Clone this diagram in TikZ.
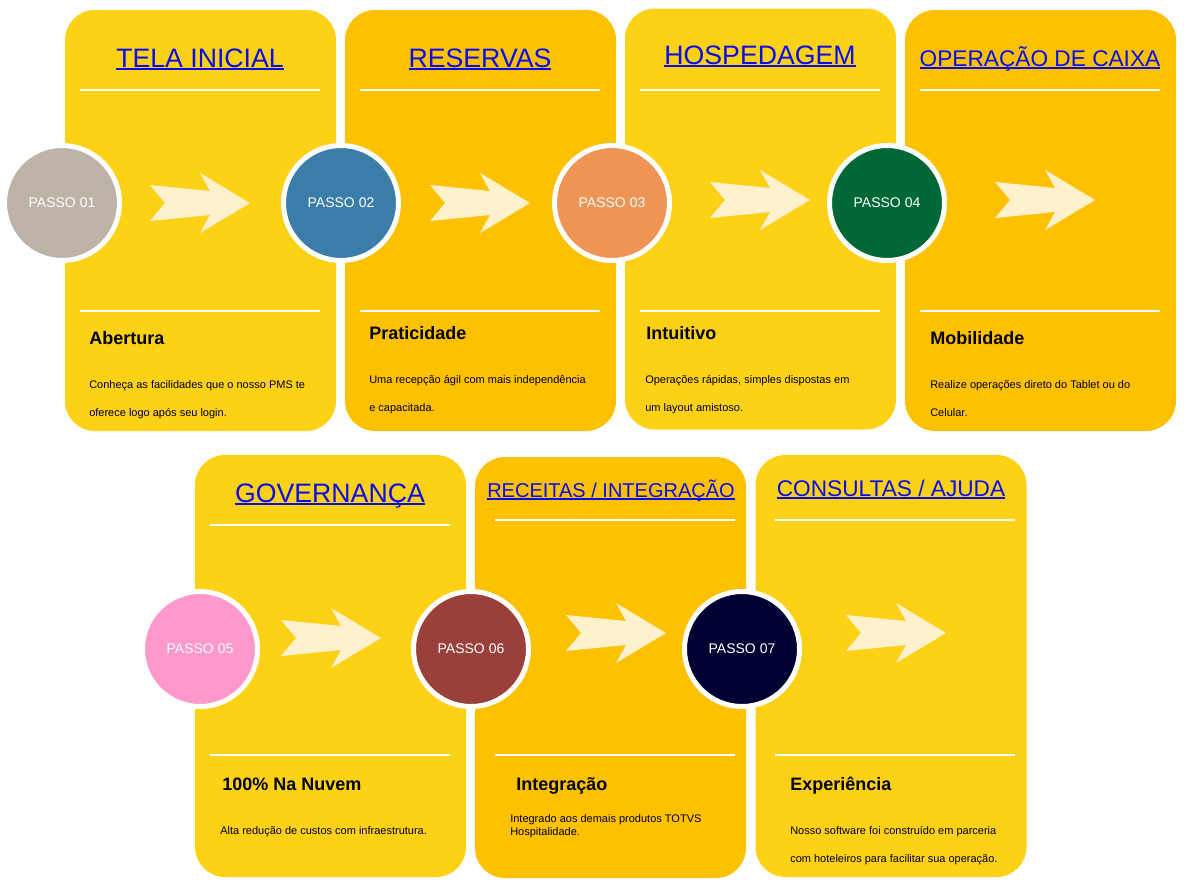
\documentclass[tikz,border=0pt]{standalone}
\usepackage{fontspec}
\setmainfont{Liberation Sans}
\usetikzlibrary{positioning}
\definecolor{cardlight}{HTML}{FDD116}
\definecolor{carddark}{HTML}{FEC100}
\definecolor{linkblue}{HTML}{0A0AEE}
\definecolor{chevcream}{HTML}{FFF1CC}
\definecolor{pA}{HTML}{BEB3A9}
\definecolor{pB}{HTML}{3A7DA9}
\definecolor{pC}{HTML}{EE9454}
\definecolor{pD}{HTML}{006837}
\definecolor{pE}{HTML}{FF99CC}
\definecolor{pF}{HTML}{99403A}
\definecolor{pG}{HTML}{000033}
\tikzstyle{card}=[rounded corners=22.5pt, minimum width=203.25pt, minimum height=315.75pt, inner sep=0pt]
\tikzstyle{light}=[card, fill=cardlight]
\tikzstyle{dark}=[card, fill=carddark]
\tikzstyle{passo}=[circle, draw=white, line width=3.75pt, minimum size=86.25pt, inner sep=0pt, text=white, font=\fontsize{10.5}{12}\selectfont]
\tikzstyle{title}=[anchor=base, text=linkblue, inner sep=0pt, font=\fontsize{20}{24}\selectfont]
\tikzstyle{sub}=[anchor=base west, inner sep=0pt, font=\bfseries\fontsize{13.5}{16}\selectfont]
\tikzstyle{desc}=[anchor=base west, align=left, inner sep=0pt, font=\fontsize{8.25}{21}\selectfont]
\tikzstyle{rule}=[draw=white, line width=1.5pt]
\newcommand{\chevron}[2]{\fill[chevcream, shift={(#1,#2)}] (-100,-18) -- (-85,0) -- (-100,18) -- (-40,12) -- (-50,30) -- (0,0) -- (-50,-30) -- (-40,-12) -- cycle;}
\newcommand{\ulink}[1]{\leavevmode\setbox0=\hbox{#1}\rlap{\copy0}\rule[-2.4pt]{\wd0}{1.4pt}}

\begin{document}
\begin{tikzpicture}[x=0.75pt, y=-0.75pt]
\useasboundingbox (0,0) rectangle (1184,885);
% first row
\node[light] (card1) at (200.5,220.5) {};
\node[dark] (card2) at (480.5,220.5) {};
\node[light] (card3) at (760.5,219) {};
\node[dark] (card4) at (1040.5,220.5) {};
% second row
\node[light, minimum height=316.5pt] (card5) at (330.5,666) {};
\node[dark] (card6) at (610.5,667.5) {};
\node[light, minimum height=316.5pt] (card7) at (891,666) {};

\draw[rule] (80,90) -- (320,90);   \draw[rule] (80,311) -- (320,311);
\draw[rule] (360,90) -- (600,90);  \draw[rule] (360,311) -- (600,311);
\draw[rule] (640,90) -- (880,90);  \draw[rule] (640,311) -- (880,311);
\draw[rule] (920,90) -- (1160,90); \draw[rule] (920,311) -- (1160,311);
\draw[rule] (210,525) -- (450,525); \draw[rule] (210,755) -- (450,755);
\draw[rule] (495,520) -- (735,520); \draw[rule] (495,755) -- (735,755);
\draw[rule] (775,520) -- (1015,520); \draw[rule] (775,755) -- (1015,755);

\node[title] (tela) at (200,67) {\ulink{TELA INICIAL}};
\node[title] (reservas) at (480,67) {\ulink{RESERVAS}};
\node[title] (hosp) at (760,64) {\ulink{HOSPEDAGEM}};
\node[title, font=\fontsize{17}{20}\selectfont] (caixa) at (1040,66) {\ulink{OPERAÇÃO DE CAIXA}};
\node[title] (gov) at (330,502) {\ulink{GOVERNANÇA}};
\node[title, font=\fontsize{15}{18}\selectfont] (receitas) at (611,497) {\ulink{RECEITAS / INTEGRAÇÃO}};
\node[title, font=\fontsize{17}{20}\selectfont] (consultas) at (891,496) {\ulink{CONSULTAS / AJUDA}};

\chevron{250}{203} \chevron{530}{203} \chevron{810}{200} \chevron{1095}{200}
\chevron{381}{638} \chevron{666}{633} \chevron{946}{633}

\node[passo, fill=pA] (p1) at (62,203) {PASSO 01};
\node[passo, fill=pB] (p2) at (341,203) {PASSO 02};
\node[passo, fill=pC] (p3) at (612,203) {PASSO 03};
\node[passo, fill=pD] (p4) at (887,203) {PASSO 04};
\node[passo, fill=pE] (p5) at (200,649) {PASSO 05};
\node[passo, fill=pF] (p6) at (471,649) {PASSO 06};
\node[passo, fill=pG] (p7) at (742,649) {PASSO 07};

\node[sub] (abertura) at (89,344) {Abertura};
\node[sub] (pratic) at (369,339) {Praticidade};
\node[sub] (intuit) at (646,339) {Intuitivo};
\node[sub] (mobil) at (930,344) {Mobilidade};
\node[sub] (nuvem) at (222,790) {100\% Na Nuvem};
\node[sub] (integ) at (516,790) {Integração};
\node[sub] (exper) at (790,790) {Experiência};

% multi-line nodes sit on their last baseline
\node[desc] (d1) at (89,416) {Conheça as facilidades que o nosso PMS te\\oferece logo após seu login.};
\node[desc] (d2) at (369,411) {Uma recepção ágil com mais independência\\e capacitada.};
\node[desc] (d3) at (645,411) {Operações rápidas, simples dispostas em\\um layout amistoso.};
\node[desc] (d4) at (930,416) {Realize operações direto do Tablet ou do\\Celular.};
\node[desc] (d5) at (220,834) {Alta redução de custos com infraestrutura.};
\node[desc, font=\fontsize{8.25}{9.75}\selectfont] (d6) at (510,835) {Integrado aos demais produtos TOTVS\\Hospitalidade.};
\node[desc] (d7) at (790,862) {Nosso software foi construído em parceria\\com hoteleiros para facilitar sua operação.};
\end{tikzpicture}
\end{document}
